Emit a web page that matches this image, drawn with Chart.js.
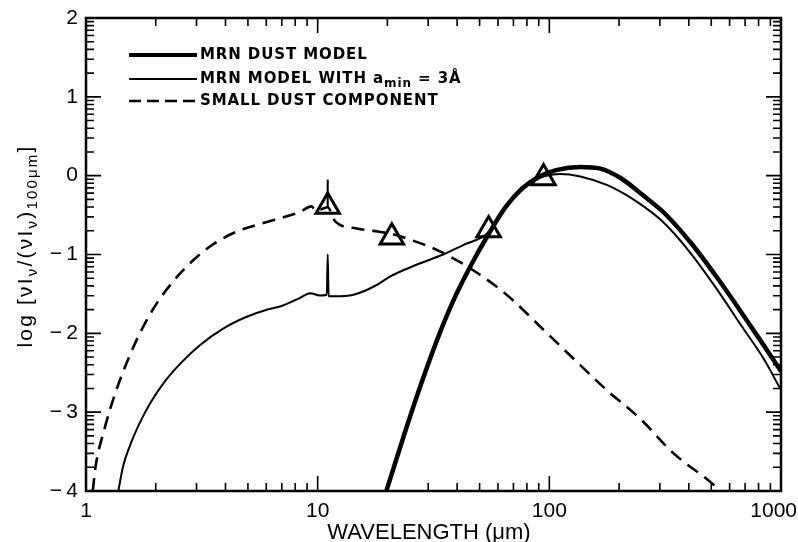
<!DOCTYPE html>
<html>
<head>
<meta charset="utf-8">
<script src="https://cdn.jsdelivr.net/npm/chart.js@4.4.0/dist/chart.umd.min.js"></script>
<style>
  html, body { margin: 0; padding: 0; background: #fff; }
</style>
</head>
<body>
<canvas id="sedChart" width="798" height="542"></canvas>
<script>
// MRN dust model (thick line)
const mrnWavelength = [19.6, 23.6, 27.9, 33.0, 39.0, 46.2, 54.7, 64.7, 76.5, 90.6, 107, 136, 166, 203, 249, 315, 413, 541, 684, 837, 1000];
const mrnLog = [-4.04, -3.29, -2.65, -2.06, -1.55, -1.12, -0.74, -0.40, -0.16, -0.01, 0.07, 0.11, 0.09, -0.03, -0.23, -0.48, -0.87, -1.33, -1.76, -2.14, -2.48];

// MRN model with a_min = 3A (thin line)
const aminWavelength = [1.37, 1.445, 1.55, 1.71, 1.89, 2.15, 2.54, 3.10, 3.91, 4.94, 6.03, 6.88, 8.39, 9.26, 10.2, 10.95, 11.05, 11.15, 11.7, 14.3, 17.9, 20.5, 26.7, 34.8, 42.5, 51.8, 55.6, 64.7, 76.5, 90.6, 97, 111, 136, 178, 233, 305, 399, 523, 684, 837, 1000];
const aminLog = [-4.05, -3.69, -3.42, -3.13, -2.89, -2.64, -2.39, -2.15, -1.94, -1.79, -1.70, -1.66, -1.55, -1.49, -1.52, -1.51, -1.0, -1.53, -1.53, -1.51, -1.39, -1.28, -1.13, -1.0, -0.88, -0.77, -0.69, -0.41, -0.17, -0.03, 0.0, 0.02, -0.01, -0.12, -0.31, -0.57, -0.95, -1.42, -1.93, -2.31, -2.72];

// Small dust component (dashed)
const smallWavelength = [1.07, 1.10, 1.20, 1.33, 1.55, 1.77, 2.02, 2.38, 2.91, 3.54, 4.47, 5.82, 6.88, 8.4, 9.4, 9.9, 10.5, 11.05, 11.9, 14.7, 17.4, 20.9, 25.0, 33.7, 46.9, 65.4, 91.0, 127, 177, 246, 343, 493, 540];
const smallLog = [-4.0, -3.69, -3.22, -2.78, -2.27, -1.91, -1.62, -1.34, -1.07, -0.87, -0.71, -0.60, -0.54, -0.46, -0.39, -0.45, -0.42, -0.40, -0.58, -0.67, -0.70, -0.74, -0.81, -0.96, -1.20, -1.51, -1.91, -2.32, -2.72, -3.08, -3.52, -3.88, -3.98];

// narrow feature on the small dust curve
const spikeWavelength = [11.05, 11.05];
const spikeLog = [-0.40, -0.05];

// observed points (triangles)
const obsWavelength = [11.05, 20.9, 54.7, 94.4];
const obsLog = [-0.39, -0.78, -0.69, -0.03];

// Axis ticks
const xMajorTicks = [1, 10, 100, 1000];
const xTickLabels = ['1', '10', '100', '1000'];
const yMajorTicks = [-4, -3, -2, -1, 0, 1, 2];
const yTickLabels = ['\u2212\u20094', '\u2212\u20093', '\u2212\u20092', '\u2212\u20091', '0', '1', '2'];

function toPoints(xs, ys) {
    return xs.map((x, i) => ({ x: x, y: ys[i] }));
}

// draw text with subscript parts, starting at x
function drawParts(ctx, parts, x, y, font, subFont, subShift) {
    parts.forEach(p => {
        ctx.font = p.sub ? subFont : font;
        ctx.fillText(p.t, x, p.sub ? y + subShift : y);
        x += ctx.measureText(p.t).width;
    });
    return x;
}

function partsWidth(ctx, parts, font, subFont) {
    let w = 0;
    parts.forEach(p => {
        ctx.font = p.sub ? subFont : font;
        w += ctx.measureText(p.t).width;
    });
    return w;
}

const framePlugin = {
    id: 'frame',
    afterDraw(chart) {
        const ctx = chart.ctx;
        const area = chart.chartArea;
        const xs = chart.scales.x;
        const ys = chart.scales.y;
        ctx.save();
        ctx.strokeStyle = '#000';
        ctx.fillStyle = '#000';

        // ticks, inward on all four sides
        ctx.lineWidth = 1.6;
        const majorLen = 15, minorLen = 8;
        const xTick = (v, len) => {
            const px = xs.getPixelForValue(v);
            ctx.beginPath();
            ctx.moveTo(px, area.bottom); ctx.lineTo(px, area.bottom - len);
            ctx.moveTo(px, area.top); ctx.lineTo(px, area.top + len);
            ctx.stroke();
        };
        const yTick = (v, len) => {
            const py = ys.getPixelForValue(v);
            ctx.beginPath();
            ctx.moveTo(area.left, py); ctx.lineTo(area.left + len, py);
            ctx.moveTo(area.right, py); ctx.lineTo(area.right - len, py);
            ctx.stroke();
        };
        xMajorTicks.forEach(v => xTick(v, majorLen));
        for (let d = 1; d < 1000; d *= 10) {
            for (let k = 2; k <= 9; k++) xTick(k * d, minorLen);
        }
        yMajorTicks.forEach(v => yTick(v, majorLen));
        for (let n = -4; n < 2; n++) {
            for (let k = 2; k <= 9; k++) yTick(n + Math.log10(k), minorLen);
        }

        // frame
        ctx.lineWidth = 2.5;
        ctx.strokeRect(area.left, area.top, area.right - area.left, area.bottom - area.top);

        // tick labels
        ctx.font = '21px "Liberation Sans", Arial, sans-serif';
        ctx.textBaseline = 'middle';
        ctx.textAlign = 'center';
        xMajorTicks.forEach((v, i) => {
            const w = ctx.measureText(xTickLabels[i]).width;
            const px = Math.min(xs.getPixelForValue(v), chart.width - w / 2 - 1);
            ctx.fillText(xTickLabels[i], px, area.bottom + 20);
        });
        ctx.textAlign = 'right';
        yMajorTicks.forEach((v, i) => {
            ctx.fillText(yTickLabels[i], area.left - 8, ys.getPixelForValue(v));
        });

        // x title
        ctx.textAlign = 'center';
        ctx.textBaseline = 'alphabetic';
        ctx.font = '22px "Liberation Sans", Arial, sans-serif';
        ctx.fillText('WAVELENGTH (\u03bcm)', 429, 539);

        // y title, rotated with subscripts
        const yParts = [
            { t: 'log [\u03bdI' }, { t: '\u03bd', sub: true }, { t: '/(\u03bdI' },
            { t: '\u03bd', sub: true }, { t: ')' }, { t: '100\u03bcm', sub: true }, { t: ']' }
        ];
        const yFont = '21px "Liberation Sans", Arial, sans-serif';
        const ySub = '15px "Liberation Sans", Arial, sans-serif';
        ctx.letterSpacing = '2.2px';
        ctx.textAlign = 'left';
        const yw = partsWidth(ctx, yParts, yFont, ySub);
        ctx.save();
        ctx.translate(32, 246);
        ctx.rotate(-Math.PI / 2);
        drawParts(ctx, yParts, -yw / 2, 0, yFont, ySub, 5);
        ctx.restore();

        // legend
        const lx0 = 129, lx1 = 197, tx = 200;
        const rows = [55, 79, 101];
        const lFont = 'bold 15px "DejaVu Sans", sans-serif';
        const lSub = 'bold 12px "DejaVu Sans", sans-serif';
        ctx.letterSpacing = '0.9px';
        ctx.textBaseline = 'middle';

        ctx.lineWidth = 4;
        ctx.beginPath(); ctx.moveTo(lx0, rows[0]); ctx.lineTo(lx1, rows[0]); ctx.stroke();
        ctx.lineWidth = 2;
        ctx.beginPath(); ctx.moveTo(lx0, rows[1]); ctx.lineTo(lx1, rows[1]); ctx.stroke();
        ctx.lineWidth = 2.5;
        ctx.setLineDash([12, 6]);
        ctx.beginPath(); ctx.moveTo(lx0, rows[2]); ctx.lineTo(lx1, rows[2]); ctx.stroke();
        ctx.setLineDash([]);

        ctx.font = lFont;
        ctx.fillText('MRN DUST MODEL', tx, rows[0]);
        drawParts(ctx, [{ t: 'MRN MODEL WITH a' }, { t: 'min', sub: true }, { t: ' = 3\u00c5' }],
            tx, rows[1], lFont, lSub, 5);
        ctx.font = lFont;
        ctx.fillText('SMALL DUST COMPONENT', tx, rows[2]);
        ctx.restore();
    }
};

const lineBase = { showLine: true, borderColor: '#000', pointRadius: 0, cubicInterpolationMode: 'monotone', fill: false };

new Chart(document.getElementById('sedChart'), {
    type: 'scatter',
    data: {
        datasets: [
            Object.assign({}, lineBase, { label: 'MRN DUST MODEL', data: toPoints(mrnWavelength, mrnLog), borderWidth: 4.5 }),
            Object.assign({}, lineBase, { label: 'MRN MODEL WITH a_min = 3A', data: toPoints(aminWavelength, aminLog), borderWidth: 2 }),
            Object.assign({}, lineBase, { label: 'SMALL DUST COMPONENT', data: toPoints(smallWavelength, smallLog), borderWidth: 2.6, borderDash: [13, 8] }),
            Object.assign({}, lineBase, { label: 'feature', data: toPoints(spikeWavelength, spikeLog), borderWidth: 2, cubicInterpolationMode: 'default' }),
            {
                label: 'observed', data: toPoints(obsWavelength, obsLog), showLine: false,
                pointStyle: 'triangle', pointRadius: 13.5, borderWidth: 3,
                borderColor: '#000', backgroundColor: 'rgba(0,0,0,0)'
            }
        ]
    },
    options: {
        responsive: false,
        animation: false,
        layout: { padding: { left: 86, right: 17, top: 18, bottom: 51 } },
        plugins: { legend: { display: false }, tooltip: { enabled: false } },
        scales: {
            x: { type: 'logarithmic', min: 1, max: 1000, display: false },
            y: { type: 'linear', min: -4, max: 2, display: false }
        }
    },
    plugins: [framePlugin]
});
</script>
</body>
</html>
